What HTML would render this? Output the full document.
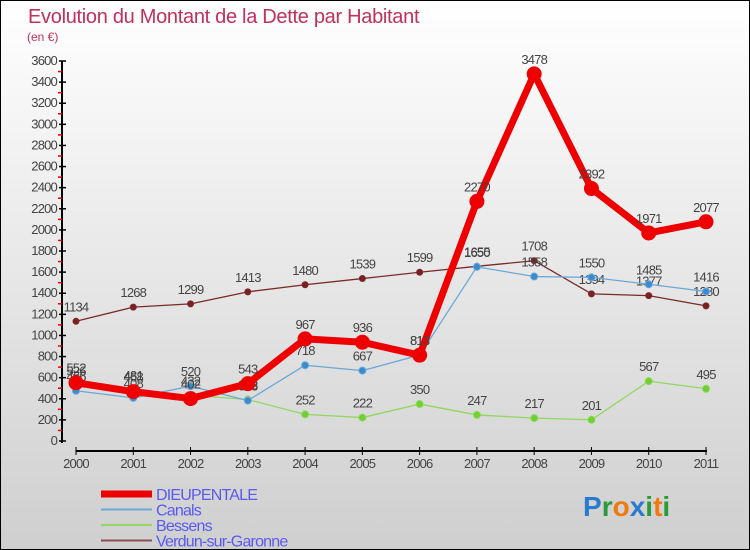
<!DOCTYPE html>
<html><head><meta charset="utf-8"><style>
body{margin:0}
#c{width:750px;height:550px;position:relative;background:linear-gradient(#ffffff,#cfcfcf);border:1px solid #000;box-sizing:border-box;overflow:hidden;font-family:"Liberation Sans",sans-serif}
svg{position:absolute;left:0;top:0}
</style></head><body>
<div id="c">
<svg id="s" width="750" height="550"></svg>
</div>
<script>
const years=["2000","2001","2002","2003","2004","2005","2006","2007","2008","2009","2010","2011"];
const dieupentale=[552,468,402,543,967,936,813,2270,3478,2392,1971,2077];
const canals=[476,408,520,383,718,667,813,1650,1558,1550,1485,1416];
const bessens=[526,481,432,393,252,222,350,247,217,201,567,495];
const verdun=[1134,1268,1299,1413,1480,1539,1599,1655,1708,1394,1377,1280];
const yTicks=[0,200,400,600,800,1000,1200,1400,1600,1800,2000,2200,2400,2600,2800,3000,3200,3400,3600];
const NS="http://www.w3.org/2000/svg";
const s=document.getElementById('s');
const x=i=>75+i*(630/11);
const y=v=>440-v*(380/3600);
function el(t,a,p){const e=document.createElementNS(NS,t);for(const k in a)e.setAttribute(k,a[k]);(p||s).appendChild(e);return e;}
let t=el('text',{x:27,y:22,'font-size':20,fill:'#c0305a','letter-spacing':'-0.3'});t.textContent='Evolution du Montant de la Dette par Habitant';

t=el('text',{x:26,y:40,'font-size':12,fill:'#c0305a'});t.textContent='(en €)';

let a=el('line',{x1:61,y1:60,x2:61,y2:442,stroke:'#000','stroke-width':2});

a=el('line',{x1:75,y1:450,x2:706,y2:450,stroke:'#000','stroke-width':2});

yTicks.forEach(v=>{
 el('line',{x1:58,x2:65,y1:y(v),y2:y(v),stroke:'#000','stroke-width':1.5});
 if(v<3600) el('line',{x1:57,x2:61,y1:y(v+100),y2:y(v+100),stroke:'#e00','stroke-width':1.5});
 const l=el('text',{x:56,y:y(v)+4,'font-size':13,'text-anchor':'end',fill:'#444','letter-spacing':'-0.8'});l.textContent=v;
 
});
years.forEach((yr,i)=>{
 el('line',{x1:x(i),x2:x(i),y1:446,y2:454,stroke:'#000'});
 const l=el('text',{x:x(i),y:467,'font-size':13,'text-anchor':'middle',fill:'#444','letter-spacing':'-0.8'});l.textContent=yr;
 
});
function series(data,color,w,r,name,fill){
 const g=el('g',{});
 el('polyline',{points:data.map((v,i)=>x(i)+','+y(v)).join(' '),fill:'none',stroke:color,'stroke-width':w,'stroke-linejoin':'round'},g);
 data.forEach((v,i)=>{
  const c=el('circle',{cx:x(i),cy:y(v),r:r,fill:fill,stroke:color,'stroke-width':1},g);
  
  const l=el('text',{x:x(i),y:y(v)-10,'font-size':13,'text-anchor':'middle',fill:'#444','letter-spacing':'-0.8'},g);l.textContent=v;
 });
}
series(verdun,'#7a2a2a',1.3,3,'verdun','#7a2020');
series(bessens,'#90d860',1.3,3.5,'bessens','#70d030');
series(canals,'#6aa8d8',1.3,3.5,'canals','#3a8ad0');
series(dieupentale,'#ee0000',7,7,'dieupentale','#ee0000');
const leg=[['DIEUPENTALE','#ee0000',7],['Canals','#6aa8d8',2],['Bessens','#90d860',2],['Verdun-sur-Garonne','#8a5050',2]];
leg.forEach((L,i)=>{
 const g=el('g',{});
 const yy=493+i*15.5;
 el('line',{x1:100,x2:151,y1:yy,y2:yy,stroke:L[1],'stroke-width':L[2]},g);
 const tx=el('text',{x:155,y:yy+6,'font-size':16,fill:'#5a5af0','letter-spacing':'-0.8'},g);tx.textContent=L[0];
});
const lg=el('text',{x:582,y:515,'font-size':28,'font-weight':'bold','font-family':'Liberation Sans, sans-serif'});

[['P','#2a7ad0'],['r','#2a9a3a'],['o','#f07a10'],['x','#2a7ad0'],['i','#2a9a3a'],['t','#f07a10'],['i','#2a9a3a']].forEach(p=>{const ts=el('tspan',{fill:p[1]},lg);ts.textContent=p[0];});
</script>
</body></html>
